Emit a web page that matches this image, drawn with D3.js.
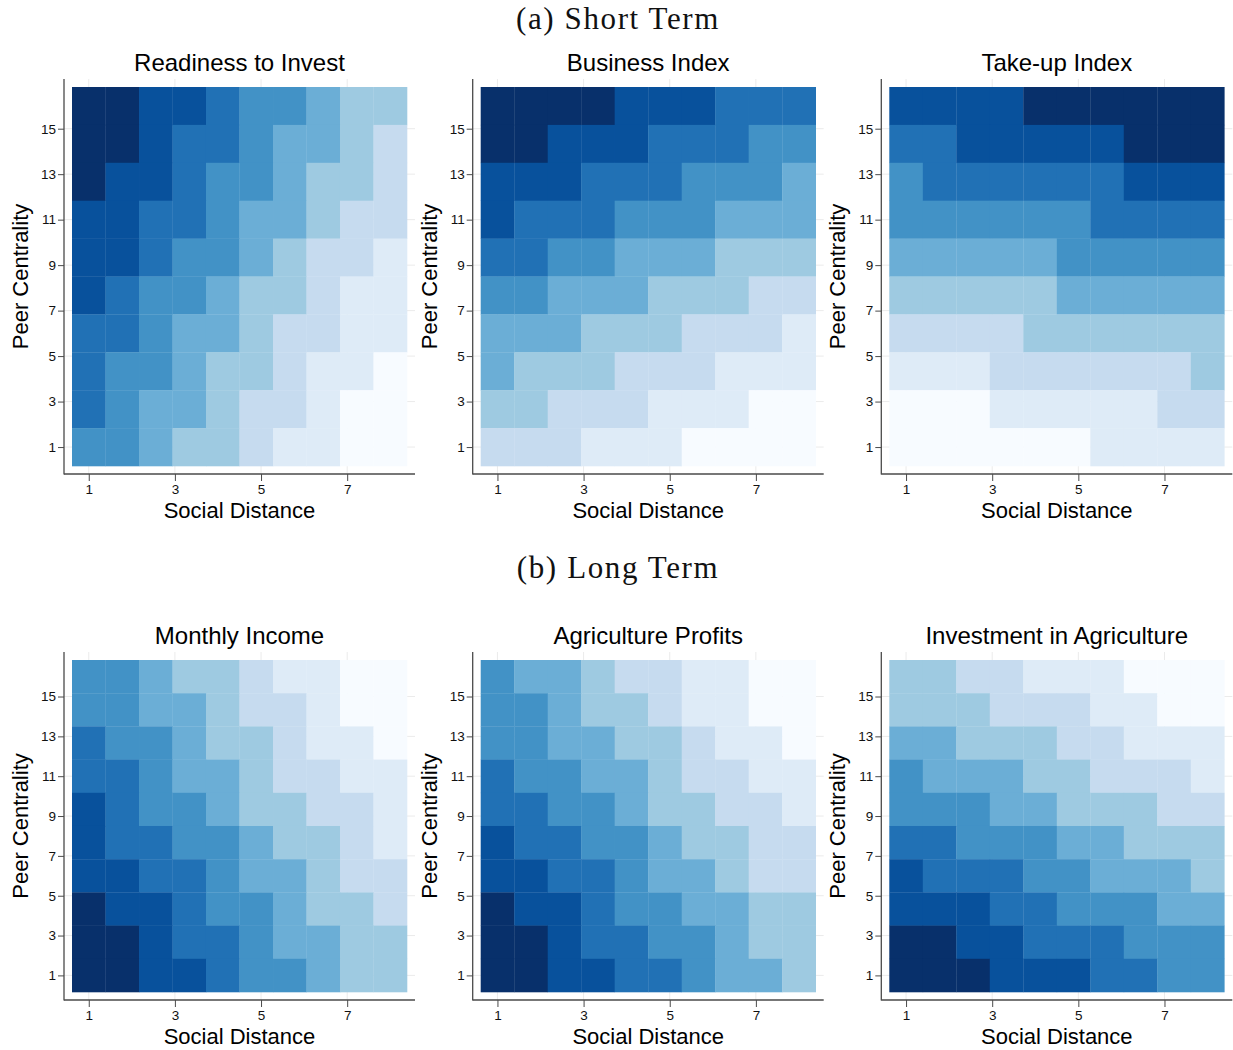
<!DOCTYPE html>
<html>
<head>
<meta charset="utf-8">
<script src="https://cdn.jsdelivr.net/npm/d3@7"></script>
<style>
  html, body { margin: 0; padding: 0; background: #fff; }
  svg { display: block; }
</style>
</head>
<body>
<svg id="chart" width="1233" height="1050"></svg>
<script>
// ---------- DATA ----------
// Cell centres of the heat-map grid
const socialDistance = [1, 1.778, 2.556, 3.333, 4.111, 4.889, 5.667, 6.444, 7.222, 8];
// rows listed from top (high centrality) to bottom (low centrality)
const peerCentrality = [16, 14.333, 12.667, 11, 9.333, 7.667, 6, 4.333, 2.667, 1];

const xTicks = [1, 3, 5, 7];
const yTicks = [1, 3, 5, 7, 9, 11, 13, 15];

// 9-class Blues palette (class 0 = lightest, 8 = darkest)
const bluesPalette = ["#f7fbff","#deebf7","#c6dbef","#9ecae1","#6baed6","#4292c6","#2171b5","#08519c","#08306b"];

const sectionTitles = ["(a) Short Term", "(b) Long Term"];
const panelTitles = [
  "Readiness to Invest", "Business Index", "Take-up Index",
  "Monthly Income", "Agriculture Profits", "Investment in Agriculture"
];

// Colour class of each cell; rows top→bottom, columns left→right
const readinessToInvest = [
  [8,8,7,7,6,5,5,4,3,3],
  [8,8,7,6,6,5,4,4,3,2],
  [8,7,7,6,5,5,4,3,3,2],
  [7,7,6,6,5,4,4,3,2,2],
  [7,7,6,5,5,4,3,2,2,1],
  [7,6,5,5,4,3,3,2,1,1],
  [6,6,5,4,4,3,2,2,1,1],
  [6,5,5,4,3,3,2,1,1,0],
  [6,5,4,4,3,2,2,1,0,0],
  [5,5,4,3,3,2,1,1,0,0]
];
const businessIndex = [
  [8,8,8,8,7,7,7,6,6,6],
  [8,8,7,7,7,6,6,6,5,5],
  [7,7,7,6,6,6,5,5,5,4],
  [7,6,6,6,5,5,5,4,4,4],
  [6,6,5,5,4,4,4,3,3,3],
  [5,5,4,4,4,3,3,3,2,2],
  [4,4,4,3,3,3,2,2,2,1],
  [4,3,3,3,2,2,2,1,1,1],
  [3,3,2,2,2,1,1,1,0,0],
  [2,2,2,1,1,1,0,0,0,0]
];
const takeUpIndex = [
  [7,7,7,7,8,8,8,8,8,8],
  [6,6,7,7,7,7,7,8,8,8],
  [5,6,6,6,6,6,6,7,7,7],
  [5,5,5,5,5,5,6,6,6,6],
  [4,4,4,4,4,5,5,5,5,5],
  [3,3,3,3,3,4,4,4,4,4],
  [2,2,2,2,3,3,3,3,3,3],
  [1,1,1,2,2,2,2,2,2,3],
  [0,0,0,1,1,1,1,1,2,2],
  [0,0,0,0,0,0,1,1,1,1]
];
const monthlyIncome = [
  [5,5,4,3,3,2,1,1,0,0],
  [5,5,4,4,3,2,2,1,0,0],
  [6,5,5,4,3,3,2,1,1,0],
  [6,6,5,4,4,3,2,2,1,1],
  [7,6,5,5,4,3,3,2,2,1],
  [7,6,6,5,5,4,3,3,2,1],
  [7,7,6,6,5,4,4,3,2,2],
  [8,7,7,6,5,5,4,3,3,2],
  [8,8,7,6,6,5,4,4,3,3],
  [8,8,7,7,6,5,5,4,3,3]
];
const agricultureProfits = [
  [5,4,4,3,2,2,1,1,0,0],
  [5,5,4,3,3,2,1,1,0,0],
  [5,5,4,4,3,3,2,1,1,0],
  [6,5,5,4,4,3,2,2,1,1],
  [6,6,5,5,4,3,3,2,2,1],
  [7,6,6,5,5,4,3,3,2,2],
  [7,7,6,6,5,4,4,3,2,2],
  [8,7,7,6,5,5,4,4,3,3],
  [8,8,7,6,6,5,5,4,3,3],
  [8,8,7,7,6,6,5,4,4,3]
];
const investmentInAgriculture = [
  [3,3,2,2,1,1,1,0,0,0],
  [3,3,3,2,2,2,1,1,0,0],
  [4,4,3,3,3,2,2,1,1,1],
  [5,4,4,4,3,3,2,2,2,1],
  [5,5,5,4,4,3,3,3,2,2],
  [6,6,5,5,5,4,4,3,3,3],
  [7,6,6,6,5,5,4,4,4,3],
  [7,7,7,6,6,5,5,5,4,4],
  [8,8,7,7,6,6,6,5,5,5],
  [8,8,8,7,7,7,6,6,5,5]
];
const panelData = [readinessToInvest, businessIndex, takeUpIndex,
                   monthlyIncome, agricultureProfits, investmentInAgriculture];

// ---------- LAYOUT ----------
const svg = d3.select("#chart");
const sansFont = "'Liberation Sans', Arial, Helvetica, sans-serif";
const serifFont = "'Liberation Serif', 'Times New Roman', serif";

const frameLefts = [64, 472.7, 881.3];
const frameW = 351;
const rowFrames = [{top: 79, bottom: 474}, {top: 652, bottom: 1000}];
const inset = 8;
const sectionBaselines = [29, 578];

const cellW = (d3.max(socialDistance) - d3.min(socialDistance)) / (socialDistance.length - 1);
const cellH = (d3.max(peerCentrality) - d3.min(peerCentrality)) / (peerCentrality.length - 1);
const xDomain = [d3.min(socialDistance) - cellW / 2, d3.max(socialDistance) + cellW / 2];
const yDomain = [d3.min(peerCentrality) - cellH / 2, d3.max(peerCentrality) + cellH / 2];

const color = d3.scaleOrdinal().domain(d3.range(bluesPalette.length)).range(bluesPalette);

// section titles
sectionTitles.forEach((t, i) => {
  svg.append("text")
    .attr("x", 618).attr("y", sectionBaselines[i])
    .attr("text-anchor", "middle")
    .attr("font-family", serifFont)
    .attr("font-size", 31)
    .attr("letter-spacing", 1.6)
    .attr("fill", "#111")
    .text(t);
});

panelData.forEach((matrix, p) => {
  const row = Math.floor(p / 3), col = p % 3;
  const fl = frameLefts[col], fr = fl + frameW;
  const ft = rowFrames[row].top, fb = rowFrames[row].bottom;

  const x = d3.scaleLinear().domain(xDomain).range([fl + inset, fr - inset]);
  const y = d3.scaleLinear().domain(yDomain).range([fb - inset, ft + inset]);

  const g = svg.append("g");

  // gridlines
  g.selectAll(".gx").data(xTicks).join("line")
    .attr("x1", d => x(d)).attr("x2", d => x(d))
    .attr("y1", ft).attr("y2", fb)
    .attr("stroke", "#ebebeb").attr("stroke-width", 1);
  g.selectAll(".gy").data(yTicks).join("line")
    .attr("y1", d => y(d)).attr("y2", d => y(d))
    .attr("x1", fl).attr("x2", fr)
    .attr("stroke", "#ebebeb").attr("stroke-width", 1);

  // cells
  const cells = [];
  matrix.forEach((r, ri) => r.forEach((v, ci) => {
    cells.push({xv: socialDistance[ci], yv: peerCentrality[ri], v});
  }));
  g.selectAll("rect.cell").data(cells).join("rect")
    .attr("class", "cell")
    .attr("x", d => x(d.xv - cellW / 2))
    .attr("y", d => y(d.yv + cellH / 2))
    .attr("width", d => x(d.xv + cellW / 2) - x(d.xv - cellW / 2) + 0.3)
    .attr("height", d => y(d.yv - cellH / 2) - y(d.yv + cellH / 2) + 0.3)
    .attr("fill", d => color(d.v));

  // axes
  const axisColor = "#4a4a4a";
  const xAxis = g.append("g").attr("transform", `translate(0,${fb})`)
    .call(d3.axisBottom(x).tickValues(xTicks).tickSize(7).tickPadding(3));
  const yAxis = g.append("g").attr("transform", `translate(${fl},0)`)
    .call(d3.axisLeft(y).tickValues(yTicks).tickSize(6).tickPadding(2));
  [xAxis, yAxis].forEach(a => {
    a.attr("font-size", null).attr("font-family", null);
    a.select(".domain").remove();
    a.selectAll("line").attr("stroke", axisColor).attr("stroke-width", 1);
    a.selectAll("text")
      .attr("font-family", sansFont)
      .attr("fill", "#111")
      .style("font-size", "13.5px");
  });
  g.append("line").attr("x1", fl).attr("x2", fl).attr("y1", ft).attr("y2", fb + 0.6)
    .attr("stroke", axisColor).attr("stroke-width", 1.3);
  g.append("line").attr("x1", fl).attr("x2", fr).attr("y1", fb).attr("y2", fb)
    .attr("stroke", axisColor).attr("stroke-width", 1.3);

  const cx = (fl + fr) / 2;
  // title
  g.append("text").attr("x", cx).attr("y", ft - 8)
    .attr("text-anchor", "middle")
    .attr("font-family", sansFont).attr("font-size", 24).attr("fill", "#000")
    .text(panelTitles[p]);
  // x label
  g.append("text").attr("x", cx).attr("y", fb + 44)
    .attr("text-anchor", "middle")
    .attr("font-family", sansFont).attr("font-size", 22).attr("fill", "#000")
    .text("Social Distance");
  // y label
  g.append("text")
    .attr("transform", `translate(${fl - 36},${(ft + fb) / 2}) rotate(-90)`)
    .attr("text-anchor", "middle")
    .attr("font-family", sansFont).attr("font-size", 22).attr("fill", "#000")
    .text("Peer Centrality");
});
</script>
</body>
</html>
